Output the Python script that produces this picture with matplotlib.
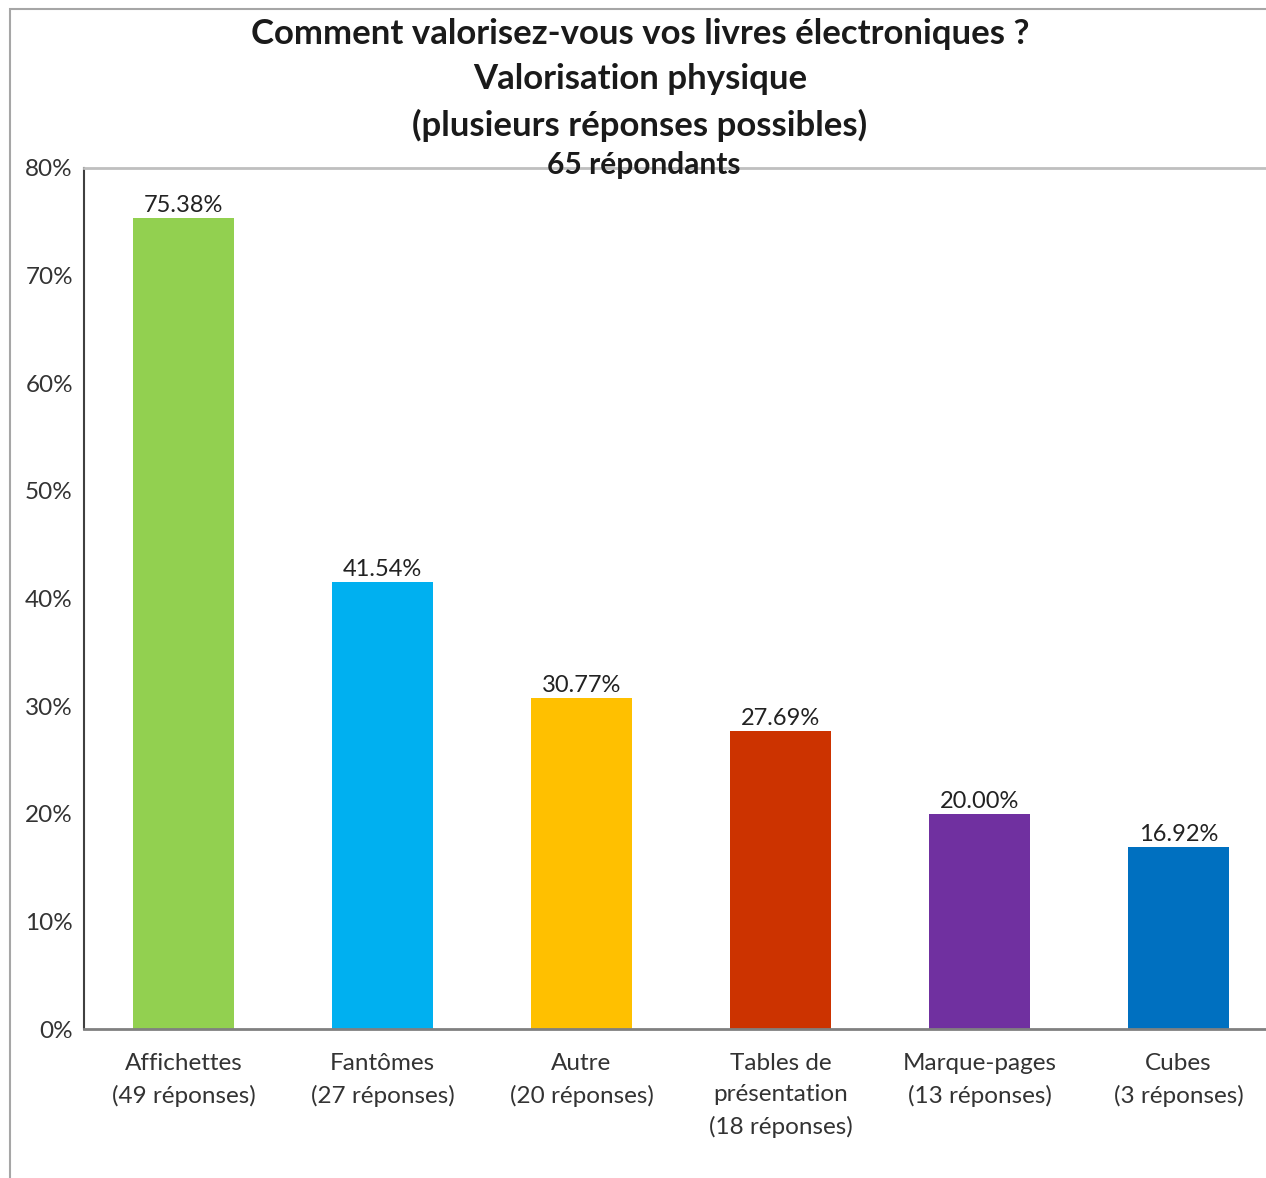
import matplotlib.pyplot as plt
import numpy as np
from matplotlib.patches import Rectangle
from matplotlib.ticker import FuncFormatter

plt.rcParams['font.family'] = ['Lato', 'DejaVu Sans']

categories = ['Affichettes\n(49 réponses)', 'Fantômes\n(27 réponses)', 'Autre\n(20 réponses)',
              'Tables de\nprésentation\n(18 réponses)', 'Marque-pages\n(13 réponses)', 'Cubes\n(3 réponses)']
values = [75.38, 41.54, 30.77, 27.69, 20.00, 16.92]
colors = ['#92D050', '#00B0F0', '#FFC000', '#CC3300', '#7030A0', '#0070C0']
yticks = [0, 10, 20, 30, 40, 50, 60, 70, 80]

W, H = 1266, 1178
fig = plt.figure(figsize=(W / 100, H / 100), dpi=100)

# outer chart frame, cut off at right and bottom
fig.patches.append(Rectangle((10 / W, -0.1), 1.2, 1 - 9 / H + 0.1, transform=fig.transFigure,
                             fill=False, edgecolor='#A6A6A6', linewidth=1.5))

# plot area runs past the right edge of the image
left, right = 84 / W, (84 + 6 * 199) / W
bottom, top = 1 - 1029 / H, 1 - 168 / H
ax = fig.add_axes([left, bottom, right - left, top - bottom])

x = np.arange(len(values))
bars = ax.bar(x, values, width=0.51, color=colors)
for b, v in zip(bars, values):
    ax.text(b.get_x() + b.get_width() / 2, v + 0.2, f'{v:.2f}%', ha='center', va='bottom',
            fontsize=17, color='#222222')

ax.set_xlim(-0.5, len(values) - 0.5)
ax.set_ylim(0, 80)
ax.set_yticks(yticks)
ax.yaxis.set_major_formatter(FuncFormatter(lambda v, p: f'{v:.0f}%'))
ax.set_xticks(x)
ax.set_xticklabels(categories, fontsize=17.5, color='#333333', linespacing=1.6)
ax.tick_params(axis='y', length=0, pad=8, labelsize=17.5, labelcolor='#333333')
ax.tick_params(axis='x', length=0, pad=17)

ax.spines['left'].set_color('#404040')
ax.spines['left'].set_linewidth(1.5)
ax.spines['bottom'].set_color('#808080')
ax.spines['bottom'].set_linewidth(2)
ax.spines['top'].set_color('#BFBFBF')
ax.spines['top'].set_linewidth(2)
ax.spines['right'].set_visible(False)

fig.text(640 / W, 1 - 80 / H, 'Comment valorisez-vous vos livres électroniques ?\nValorisation physique\n(plusieurs réponses possibles)',
         ha='center', va='center', fontsize=25, fontweight='bold', color='#1a1a1a', linespacing=1.5)
fig.text(644 / W, 1 - 165 / H, '65 répondants', ha='center', va='center', fontsize=21.5,
         fontweight='bold', color='#1a1a1a')

fig.savefig('out.png', dpi=100)
